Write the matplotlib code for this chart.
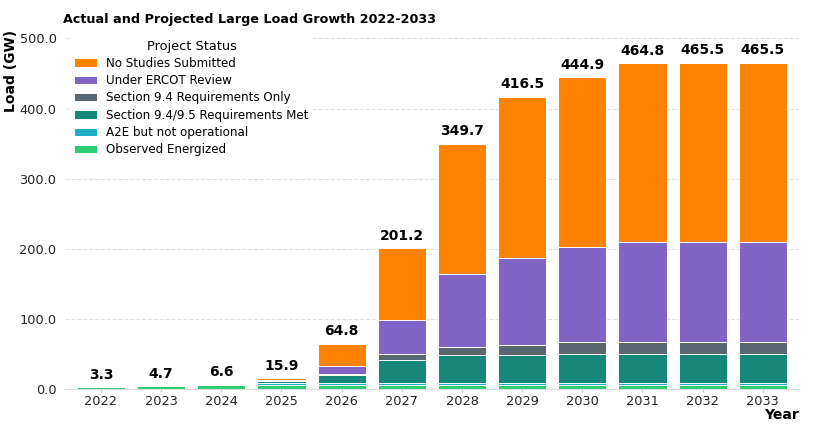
import matplotlib
matplotlib.use("Agg")
import matplotlib.pyplot as plt
import numpy as np
from matplotlib.ticker import FuncFormatter

years = ["2022", "2023", "2024", "2025", "2026", "2027", "2028", "2029", "2030", "2031", "2032", "2033"]
observed_energized = [3.3, 4.7, 6.6, 7.0, 7.0, 7.0, 7.0, 7.0, 7.0, 7.0, 7.0, 7.0]
a2e_not_operational = [0.0, 0.0, 0.0, 2.8, 2.8, 2.8, 2.8, 2.8, 2.8, 2.8, 2.8, 2.8]
sec_94_95_met = [0.0, 0.0, 0.0, 2.0, 10.8, 32.4, 39.5, 39.9, 41.3, 40.9, 40.9, 40.9]
sec_94_only = [0.0, 0.0, 0.0, 0.8, 1.5, 8.4, 11.3, 13.7, 16.5, 17.3, 17.3, 17.3]
under_review = [0.0, 0.0, 0.0, 1.5, 12.0, 47.9, 103.2, 123.9, 134.7, 142.3, 142.7, 142.7]
no_studies = [0.0, 0.0, 0.0, 1.8, 30.7, 102.7, 185.9, 229.2, 242.6, 254.5, 254.8, 254.8]
totals = [3.3, 4.7, 6.6, 15.9, 64.8, 201.2, 349.7, 416.5, 444.9, 464.8, 465.5, 465.5]

series = [
    ("Observed Energized", observed_energized, "#2ecc71"),
    ("A2E but not operational", a2e_not_operational, "#1fb0c8"),
    ("Section 9.4/9.5 Requirements Met", sec_94_95_met, "#17877b"),
    ("Section 9.4 Requirements Only", sec_94_only, "#5b6770"),
    ("Under ERCOT Review", under_review, "#8165c6"),
    ("No Studies Submitted", no_studies, "#ff8300"),
]

fig = plt.figure(figsize=(8.16, 4.28), dpi=100)
ax = fig.add_axes([0.0795, 0.09, 0.8995, 0.84])

x = np.arange(len(years))
bottom = np.zeros(len(years))
handles = []
for name, vals, col in series:
    v = np.array(vals)
    b = ax.bar(x, v, 0.8, bottom=bottom, color=col, edgecolor="white",
               linewidth=0.7, label=name, zorder=2)
    handles.append(b)
    bottom += v

for xi, t in zip(x, totals):
    ax.annotate(f"{t:.1f}", (xi, t), xytext=(0, 4), textcoords="offset points",
                ha="center", va="bottom", fontsize=10, fontweight="bold", color="black")

ax.set_xlim(-0.6, 11.6)
ax.set_xticks(x)
ax.set_xticklabels(years)
ax.set_ylim(0, 512)
ax.set_yticks([0, 100, 200, 300, 400, 500])
ax.yaxis.set_major_formatter(FuncFormatter(lambda v, p: f"{v:.1f}"))
ax.yaxis.grid(True, linestyle="--", color="#e0e0e0", linewidth=0.8, zorder=0)
ax.set_axisbelow(True)
for s in ["left", "top", "right"]:
    ax.spines[s].set_visible(False)
ax.spines["bottom"].set_color("#dddddd")
ax.tick_params(axis="y", length=0, labelsize=9.3, colors="#222222", pad=6)
ax.tick_params(axis="x", length=2.5, color="#cccccc", labelsize=9.3, colors="#222222", pad=1.5)

ax.set_title("Actual and Projected Large Load Growth 2022-2033", fontsize=9.2,
             fontweight="bold", loc="left", x=-0.002, pad=5)
ax.set_ylabel("Load (GW)", fontsize=10, fontweight="bold", loc="top", labelpad=1)
ax.set_xlabel("Year", fontsize=10, fontweight="bold", loc="right", labelpad=0)

leg = ax.legend(handles[::-1], [s[0] for s in series][::-1], title="Project Status",
                loc="upper left", bbox_to_anchor=(0.0, 1.0), fontsize=8.6, title_fontsize=9.3,
                frameon=True, framealpha=1.0, edgecolor="white", handlelength=1.85,
                labelspacing=0.36, borderpad=0.3)
leg.get_frame().set_linewidth(0)

fig.savefig("out.png", dpi=100)
